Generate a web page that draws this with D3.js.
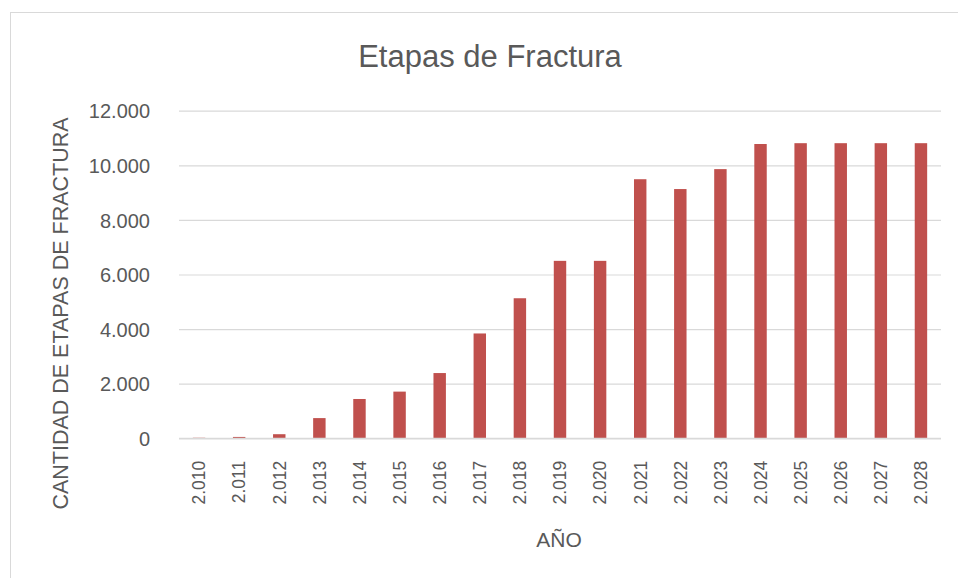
<!DOCTYPE html>
<html>
<head>
<meta charset="utf-8">
<script src="https://cdn.jsdelivr.net/npm/d3@7"></script>
<style>
  html, body { margin: 0; padding: 0; background: #ffffff; }
  svg { display: block; }
</style>
</head>
<body>
<div id="chart"></div>
<script>
// ---- Data ----
const categories = ["2.010","2.011","2.012","2.013","2.014","2.015","2.016","2.017","2.018","2.019",
                    "2.020","2.021","2.022","2.023","2.024","2.025","2.026","2.027","2.028"];
const values = [20, 50, 150, 740, 1440, 1710, 2390, 3840, 5130, 6500,
                 6500, 9490, 9130, 9860, 10780, 10810, 10810, 10810, 10810];
const yTicks = [0, 2000, 4000, 6000, 8000, 10000, 12000];
const yTickLabels = ["0", "2.000", "4.000", "6.000", "8.000", "10.000", "12.000"];
const chartTitle = "Etapas de Fractura";
const xTitle = "AÑO";
const yTitle = "CANTIDAD DE ETAPAS DE FRACTURA";

// ---- Layout ----
const W = 958, H = 578;
const plotLeft = 179, plotRight = 941, plotTop = 110.7, plotBottom = 438.3;
const font = "'Liberation Sans', Arial, sans-serif";
const textColor = "#595959";

const svg = d3.select("#chart").append("svg")
  .attr("width", W).attr("height", H);

// chart border
svg.append("rect")
  .attr("x", 10.5).attr("y", 12.5)
  .attr("width", W + 20).attr("height", H + 20)
  .attr("fill", "#ffffff").attr("stroke", "#d9d9d9").attr("stroke-width", 1);

const x = d3.scaleBand().domain(categories).range([plotLeft, plotRight]).paddingInner(0.69).paddingOuter(0.345);
const y = d3.scaleLinear().domain([0, 12000]).range([plotBottom, plotTop]);

// gridlines via axis
const gridAxis = d3.axisLeft(y).tickValues(yTicks).tickSize(-(plotRight - plotLeft)).tickFormat("");
const grid = svg.append("g").attr("transform", `translate(${plotLeft},0)`).call(gridAxis);
grid.select(".domain").remove();
grid.selectAll(".tick line").attr("stroke", "#d9d9d9").attr("stroke-width", 1.2);

// y axis labels
const yAxis = d3.axisLeft(y).tickValues(yTicks).tickSize(0).tickPadding(0)
  .tickFormat(d => yTickLabels[yTicks.indexOf(d)]);
const yg = svg.append("g").attr("transform", `translate(150,0)`).call(yAxis);
yg.select(".domain").remove();
yg.selectAll(".tick text")
  .attr("font-family", font).attr("font-size", 20).attr("fill", textColor)
  .attr("dy", "0.36em");

// bars
svg.append("g").selectAll("rect").data(values).join("rect")
  .attr("x", (d, i) => x(categories[i]))
  .attr("width", x.bandwidth())
  .attr("y", d => y(d))
  .attr("height", d => y(0) - y(d))
  .attr("fill", "#c0504d");

// x axis
const xAxis = d3.axisBottom(x).tickSize(0).tickPadding(0);
const xg = svg.append("g").attr("transform", `translate(0,${plotBottom})`).call(xAxis);
xg.select(".domain").attr("stroke", "#d9d9d9").attr("stroke-width", 1.2)
  .attr("d", `M${plotLeft},0H${plotRight}`);
xg.selectAll(".tick text")
  .attr("font-family", font).attr("font-size", 17.5).attr("fill", textColor)
  .attr("text-anchor", "end")
  .attr("transform", "translate(0,22.5) rotate(-90)")
  .attr("x", 0).attr("y", 0).attr("dy", "0.36em");

// titles
svg.append("text")
  .attr("x", 490).attr("y", 66.7)
  .attr("text-anchor", "middle")
  .attr("font-family", font).attr("font-size", 31).attr("fill", textColor)
  .text(chartTitle);

svg.append("text")
  .attr("x", 559).attr("y", 547.3)
  .attr("text-anchor", "middle")
  .attr("font-family", font).attr("font-size", 21).attr("fill", textColor)
  .text(xTitle);

svg.append("text")
  .attr("transform", "translate(68.3,313.5) rotate(-90)")
  .attr("text-anchor", "middle")
  .attr("font-family", font).attr("font-size", 21.5).attr("fill", textColor)
  .text(yTitle);
</script>
</body>
</html>
